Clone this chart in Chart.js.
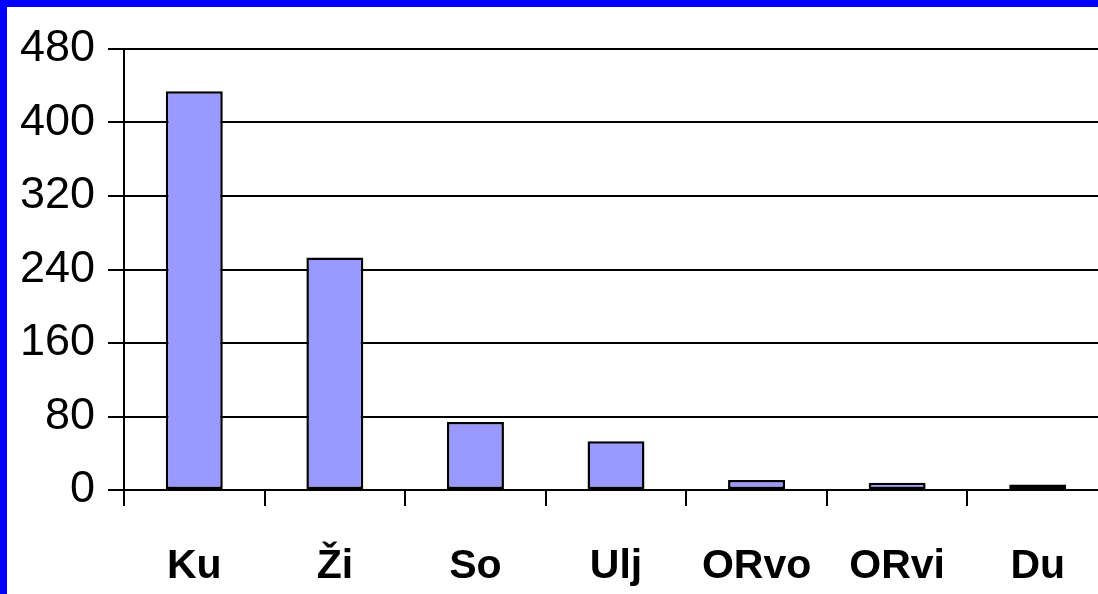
<!DOCTYPE html>
<html>
<head>
<meta charset="utf-8">
<script src="https://cdn.jsdelivr.net/npm/chart.js@4"></script>
<style>
  html, body { margin: 0; padding: 0; background: #fff; overflow: hidden; width: 1098px; height: 594px; }
  #marco { border-top: 7px solid #0000ff; border-left: 7px solid #0000ff; width: 1091px; height: 587px; overflow: hidden; }
  #caja { width: 1120px; height: 587px; }
</style>
</head>
<body>
<div id="marco"><div id="caja"><canvas id="grafico"></canvas></div></div>
<script>
// datos
const categorias = ['Ku', 'Ži', 'So', 'Ulj', 'ORvo', 'ORvi', 'Du'];
const valores = [434, 253, 74, 53, 11, 8, 6];
const ejeMin = 0;
const ejeMax = 480;
const ejePaso = 80;

const ctx = document.getElementById('grafico').getContext('2d');

new Chart(ctx, {
  type: 'bar',
  data: {
    labels: categorias,
    datasets: [{
      data: valores,
      backgroundColor: '#9999ff',
      borderColor: '#000',
      borderWidth: 2.5,
      borderSkipped: false,
      categoryPercentage: 1,
      barPercentage: 0.405
    }]
  },
  options: {
    responsive: true,
    maintainAspectRatio: false,
    animation: false,
    layout: { padding: { top: 42, right: 19, left: 0, bottom: 0 } },
    plugins: { legend: { display: false }, tooltip: { enabled: false } },
    scales: {
      x: {
        grid: { display: true, drawOnChartArea: false, drawTicks: true, tickLength: 16, color: '#000', lineWidth: 2, offset: true },
        border: { color: '#000', width: 2 },
        ticks: { color: '#000', font: { family: 'Liberation Sans, Arial', size: 41, weight: 'bold' }, padding: 36, maxRotation: 0, autoSkip: false },
        afterFit: s => { s.height = 104; }
      },
      y: {
        min: ejeMin,
        max: ejeMax,
        grid: { color: '#000', lineWidth: 2, tickLength: 16, drawTicks: true },
        border: { color: '#000', width: 2 },
        ticks: { stepSize: ejePaso, color: '#000', font: { family: 'Liberation Sans, Arial', size: 45 }, padding: 13 },
        afterFit: s => { s.width = 117; }
      }
    }
  }
});
</script>
</body>
</html>
